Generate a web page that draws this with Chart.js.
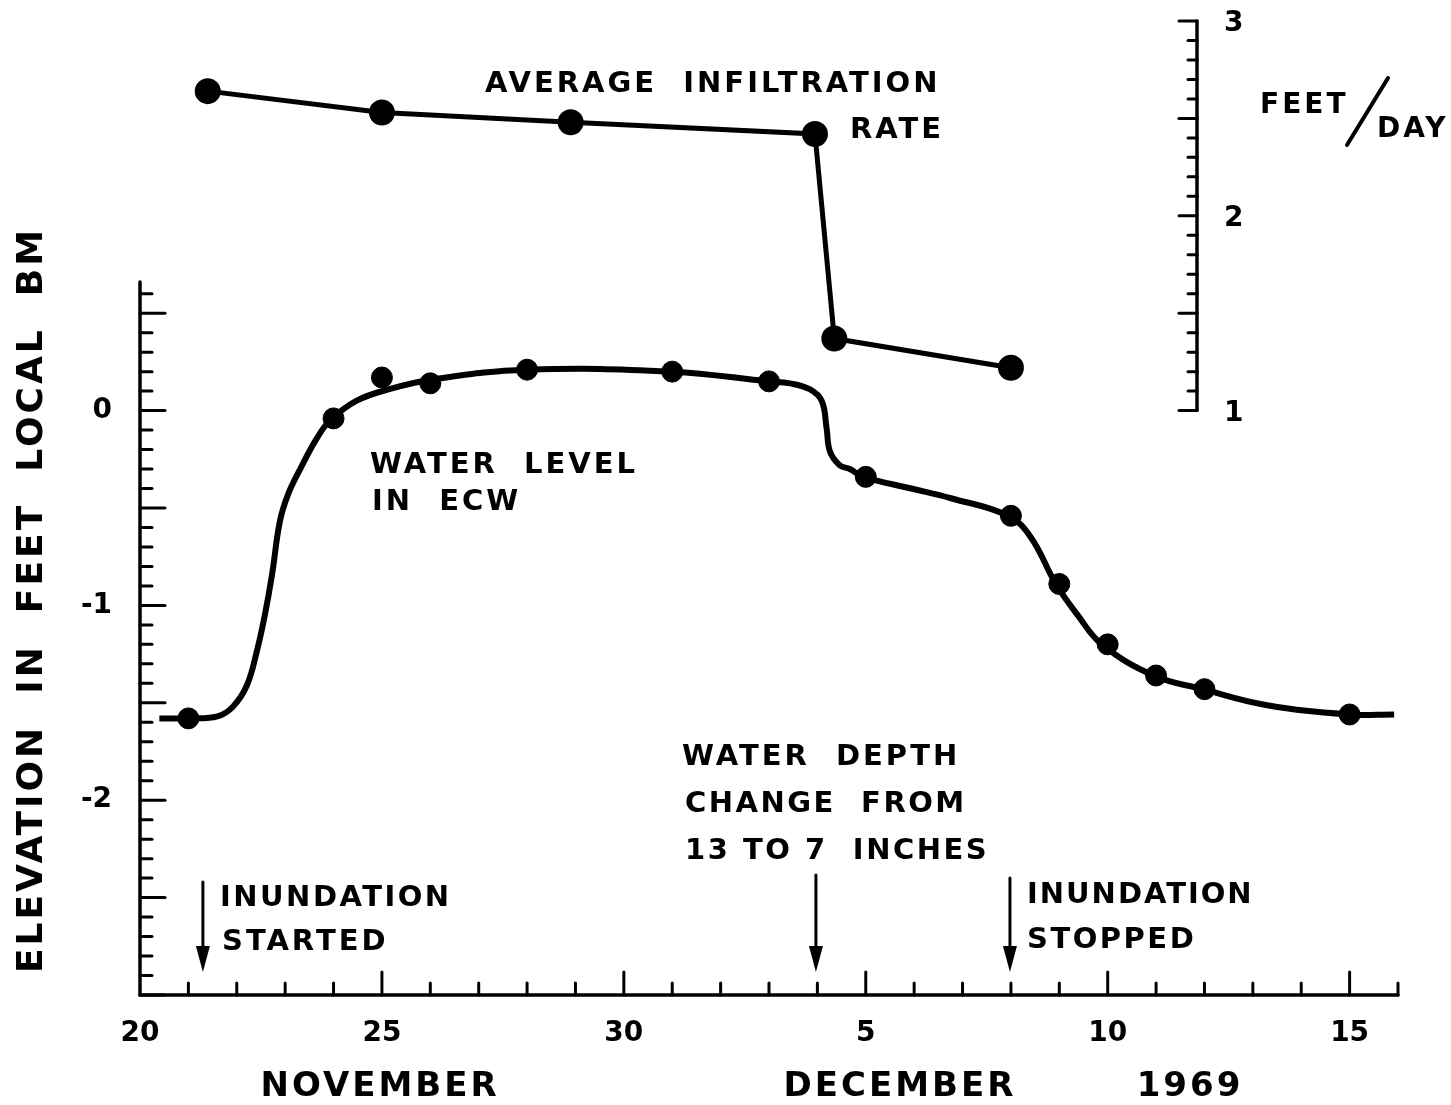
<!DOCTYPE html>
<html>
<head>
<meta charset="utf-8">
<script src="https://cdn.jsdelivr.net/npm/chart.js@4/dist/chart.umd.min.js"></script>
<style>
  body { margin: 0; background: #fff; }
  canvas { display: block; }
</style>
</head>
<body>
<canvas id="myChart" width="1451" height="1105"></canvas>
<script>
// days counted from 20 November 1969
// water level in ECW, measured points
var wlDays = [1, 4, 5, 6, 8, 11, 13, 15, 18, 19, 20, 21, 22, 25]
var wlValues = [-1.58, -0.04, 0.17, 0.14, 0.21, 0.20, 0.15, -0.34, -0.54, -0.89, -1.20, -1.36, -1.43, -1.56]

// hand drawn curve through the water level points
var curveDays = [0.4, 1.0, 1.6, 1.92, 2.21, 2.42, 2.58, 2.73, 2.89, 3.06, 3.31, 3.66, 3.93, 4.47,
  5.15, 6.04, 8.0, 11.0, 13.0, 13.43, 13.84, 14.09, 14.19, 14.26, 14.46, 14.67, 14.95, 15.94, 16.76,
  17.94, 18.41, 18.93, 19.38, 19.88, 20.95, 21.96, 23.24, 24.97, 25.92]
var curveValues = [-1.58, -1.58, -1.57, -1.52, -1.41, -1.23, -1.05, -0.84, -0.57, -0.43, -0.30, -0.14, -0.05, 0.05,
  0.11, 0.16, 0.21, 0.20, 0.15, 0.14, 0.11, 0.05, -0.09, -0.21, -0.28, -0.30, -0.34, -0.40, -0.45,
  -0.54, -0.65, -0.89, -1.05, -1.20, -1.36, -1.43, -1.51, -1.56, -1.56]

// average infiltration rate, feet/day
var infDays = [1.4, 5, 8.9, 13.95, 14.35, 18]
var infRates = [2.64, 2.53, 2.48, 2.42, 1.37, 1.22]

// x tick labels (day -> label)
var xTickDays = [0, 5, 10, 15, 20, 25]
var xTickLabels = ['20', '25', '30', '5', '10', '15']
// left axis labels
var yTickValues = [0, -1, -2]
// right axis labels
var rateTickValues = [1, 2, 3]

// arrows
var arrowDays = [1.3, 13.97, 17.98]

function pts(xs, ys) {
  var out = []
  for (var i = 0; i < xs.length; i++) out.push({x: xs[i], y: ys[i]})
  return out
}

var FONT = 'DejaVu Sans'

function txt(ctx, s, x, y, size, spacing, align) {
  ctx.font = 'bold ' + size + 'px "' + FONT + '"'
  ctx.letterSpacing = (spacing || 0) + 'px'
  ctx.textAlign = align || 'left'
  ctx.textBaseline = 'alphabetic'
  ctx.fillText(s, x, y)
  ctx.letterSpacing = '0px'
}

function arrow(ctx, x, yTop, yTip) {
  ctx.beginPath()
  ctx.moveTo(x, yTop)
  ctx.lineTo(x, yTip - 15)
  ctx.stroke()
  ctx.beginPath()
  ctx.moveTo(x - 7, yTip - 26)
  ctx.lineTo(x + 7, yTip - 26)
  ctx.lineTo(x, yTip)
  ctx.closePath()
  ctx.fill()
}

var decor = {
  id: 'decor',
  beforeDraw: function(chart) {
    var ctx = chart.ctx
    ctx.save()
    ctx.fillStyle = '#fff'
    ctx.fillRect(0, 0, chart.width, chart.height)
    ctx.restore()
  },
  afterDraw: function(chart) {
    var ctx = chart.ctx
    var xs = chart.scales.x, ys = chart.scales.y, rs = chart.scales.y2
    ctx.save()
    ctx.strokeStyle = '#000'
    ctx.fillStyle = '#000'
    ctx.lineCap = 'round'

    // x axis line and day ticks
    var base = ys.getPixelForValue(-3)
    ctx.lineWidth = 3.5
    ctx.beginPath()
    ctx.moveTo(xs.getPixelForValue(0), base)
    ctx.lineTo(xs.getPixelForValue(26), base)
    ctx.stroke()
    ctx.lineWidth = 3
    for (var d = 1; d <= 26; d++) {
      var px = xs.getPixelForValue(d)
      var len = d % 5 === 0 ? 23 : 12
      ctx.beginPath()
      ctx.moveTo(px, base)
      ctx.lineTo(px, base - len)
      ctx.stroke()
    }

    // left axis line and ticks
    var lx = xs.getPixelForValue(0)
    ctx.lineWidth = 3.5
    ctx.beginPath()
    ctx.moveTo(lx, base)
    ctx.lineTo(lx, ys.getPixelForValue(0.66))
    ctx.stroke()
    ctx.lineWidth = 3
    for (var i = -30; i <= 6; i++) {
      var py = ys.getPixelForValue(i / 10)
      var l2 = i % 5 === 0 ? 25 : 12
      ctx.beginPath()
      ctx.moveTo(lx, py)
      ctx.lineTo(lx + l2, py)
      ctx.stroke()
    }

    // right axis (infiltration rate)
    var rx = 1197
    ctx.lineWidth = 3.5
    ctx.beginPath()
    ctx.moveTo(rx, rs.getPixelForValue(1))
    ctx.lineTo(rx, rs.getPixelForValue(3))
    ctx.stroke()
    ctx.lineWidth = 3
    for (var k = 10; k <= 30; k++) {
      var ry = rs.getPixelForValue(k / 10)
      var l3 = k % 5 === 0 ? 18 : 9
      ctx.beginPath()
      ctx.moveTo(rx, ry)
      ctx.lineTo(rx - l3, ry)
      ctx.stroke()
    }
    rateTickValues.forEach(function(t) {
      txt(ctx, String(t), 1224, rs.getPixelForValue(t) + 10, 28, 0, 'left')
    })
    txt(ctx, 'FEET', 1260, 113, 28, 3)
    txt(ctx, 'DAY', 1377, 137, 28, 3)
    ctx.lineWidth = 4
    ctx.beginPath()
    ctx.moveTo(1347, 145)
    ctx.lineTo(1388, 78)
    ctx.stroke()

    // annotations
    txt(ctx, 'AVERAGE  INFILTRATION', 485, 92, 29, 3)
    txt(ctx, 'RATE', 944, 138, 29, 3, 'right')
    txt(ctx, 'WATER  LEVEL', 370, 473, 29, 3)
    txt(ctx, 'IN  ECW', 372, 510, 29, 3)
    txt(ctx, 'WATER  DEPTH', 682, 765, 29, 3)
    txt(ctx, 'CHANGE  FROM', 685, 812, 29, 2.5)
    txt(ctx, '13 TO 7  INCHES', 685, 859, 29, 2.5)
    txt(ctx, 'INUNDATION', 220, 906, 29, 2.5)
    txt(ctx, 'STARTED', 222, 950, 29, 3)
    txt(ctx, 'INUNDATION', 1027, 903, 29, 2)
    txt(ctx, 'STOPPED', 1027, 948, 29, 2.5)

    // arrows
    ctx.lineWidth = 3
    var arrowTops = [882, 875, 878]
    arrowDays.forEach(function(d, j) {
      arrow(ctx, xs.getPixelForValue(d), arrowTops[j], 972)
    })

    // month labels
    txt(ctx, 'NOVEMBER', 380, 1096, 34, 3, 'center')
    txt(ctx, 'DECEMBER', 900, 1096, 34, 3, 'center')
    txt(ctx, '1969', 1190, 1096, 34, 3, 'center')

    // y axis title
    ctx.translate(42, 600)
    ctx.rotate(-Math.PI / 2)
    txt(ctx, 'ELEVATION  IN  FEET  LOCAL  BM', 0, 0, 36, 3, 'center')
    ctx.restore()
  }
}

var ctx = document.getElementById('myChart').getContext('2d')
var myChart = new Chart(ctx, {
  type: 'scatter',
  data: {
    datasets: [
      {
        data: pts(curveDays, curveValues),
        showLine: true,
        borderColor: '#000',
        borderWidth: 6,
        pointRadius: 0,
        tension: 0.4,
        yAxisID: 'y'
      },
      {
        data: pts(wlDays, wlValues),
        showLine: false,
        pointRadius: 10.5,
        backgroundColor: '#000',
        borderColor: '#000',
        yAxisID: 'y'
      },
      {
        data: pts(infDays, infRates),
        showLine: true,
        tension: 0,
        borderColor: '#000',
        borderWidth: 5,
        pointRadius: 10.5,
        backgroundColor: '#000',
        yAxisID: 'y2'
      }
    ]
  },
  options: {
    responsive: false,
    animation: false,
    layout: { padding: { top: 21, right: 53, left: 0, bottom: 0 } },
    plugins: { legend: { display: false }, tooltip: { enabled: false } },
    scales: {
      x: {
        type: 'linear',
        min: 0,
        max: 26,
        grid: { display: false },
        border: { display: false },
        afterFit: function(s) { s.height = 110; s.paddingLeft = 0; s.paddingRight = 0 },
        afterBuildTicks: function(s) { s.ticks = xTickDays.map(function(v) { return {value: v} }) },
        ticks: {
          autoSkip: false,
          maxRotation: 0,
          padding: 14,
          color: '#000',
          font: { family: FONT, size: 28, weight: 'bold' },
          callback: function(v) {
            var i = xTickDays.indexOf(v)
            return i >= 0 ? xTickLabels[i] : ''
          }
        }
      },
      y: {
        type: 'linear',
        min: -3,
        max: 2,
        grid: { display: false },
        border: { display: false },
        afterFit: function(s) { s.width = 140; s.paddingTop = 0; s.paddingBottom = 0 },
        afterBuildTicks: function(s) { s.ticks = yTickValues.map(function(v) { return {value: v} }) },
        ticks: {
          padding: 20,
          color: '#000',
          font: { family: FONT, size: 28, weight: 'bold' },
          callback: function(v) { return String(v) }
        }
      },
      y2: {
        type: 'linear',
        min: -2,
        max: 3,
        display: false
      }
    }
  },
  plugins: [decor]
})
</script>
</body>
</html>
